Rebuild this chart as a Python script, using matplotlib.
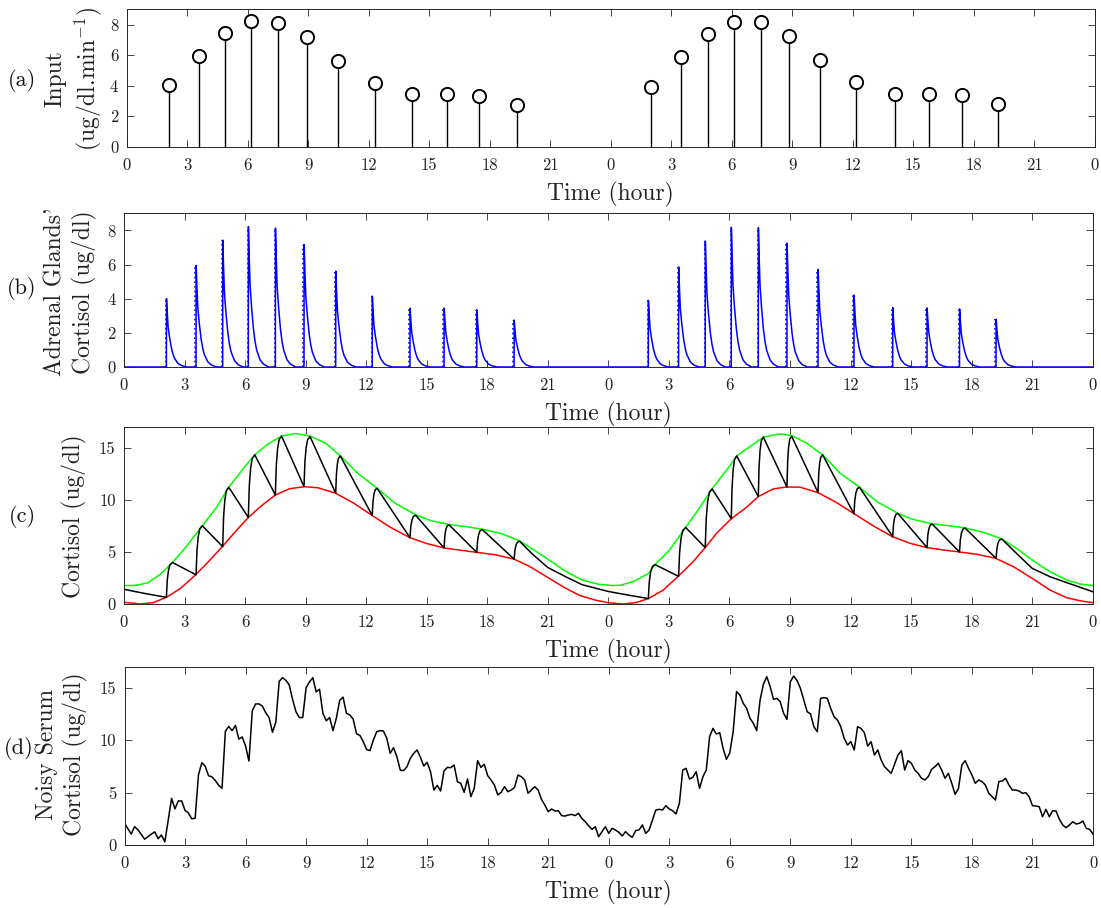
import numpy as np
import matplotlib
matplotlib.use("Agg")
import matplotlib.pyplot as plt

plt.rcParams['font.family'] = 'cmr10'
plt.rcParams['mathtext.fontset'] = 'cm'
plt.rcParams['axes.formatter.use_mathtext'] = True

# ---------------- data ----------------
# (a) secretory pulses: times (h, two days) and amplitudes
pulse_times = [2.10, 3.57, 4.89, 6.16, 7.50, 8.92, 10.49, 12.30, 14.17, 15.86, 17.48, 19.33,
               25.98, 27.48, 28.80, 30.09, 31.43, 32.85, 34.39, 36.17, 38.09, 39.79, 41.40, 43.21]
pulse_values = [4.01, 5.95, 7.43, 8.22, 8.13, 7.17, 5.62, 4.15, 3.45, 3.45, 3.35, 2.75,
                3.90, 5.86, 7.38, 8.18, 8.16, 7.25, 5.71, 4.21, 3.48, 3.46, 3.40, 2.80]

# (b) shape of a single adrenal spike (offset in h, fraction of amplitude)
decay_offsets = [0.0, 0.04, 0.083, 0.16, 0.25, 0.33, 0.41, 0.58, 0.75, 1.0]
decay_fracs = [1.0, 0.78, 0.58, 0.42, 0.27, 0.18, 0.12, 0.05, 0.02, 0.0]

# (c) upper (green) and lower (red) envelopes
green_t = [0, 0.6, 1.2, 1.8, 2.4, 3.0, 3.88, 4.6, 5.19, 6.0, 6.48, 7.1, 7.81, 8.5, 9.22,
           10.0, 10.72, 11.6, 12.54, 13.4, 14.45, 15.2, 16.1, 17.0, 17.75, 18.7, 19.6, 20.3,
           21.0, 21.9, 22.7, 23.5, 24.2, 24.6, 25.24, 25.98, 26.31, 27.0, 27.83, 28.54, 29.14,
           30.0, 30.36, 31.02, 31.68, 32.5, 33.08, 33.83, 34.62, 35.48, 36.44, 37.3, 38.34,
           39.0, 40.04, 40.93, 41.67, 42.58, 43.49, 44.23, 45.0, 45.88, 46.71, 47.4, 48.0]
green_v = [1.77, 1.78, 2.05, 2.85, 3.98, 5.3, 7.5, 9.3, 11.2, 13.2, 14.3, 15.3, 16.1, 16.35, 16.1,
           15.4, 14.2, 12.5, 11.1, 9.7, 8.55, 8.0, 7.62, 7.4, 7.17, 6.75, 6.05, 5.2,
           4.3, 3.1, 2.3, 1.9, 1.77, 1.8, 2.15, 2.92, 3.78, 5.1, 7.34, 9.28, 11.04,
           13.2, 14.2, 15.1, 16.0, 16.31, 16.15, 15.42, 14.3, 12.54, 11.2, 9.82, 8.7,
           8.16, 7.68, 7.49, 7.29, 6.88, 6.24, 5.34, 4.22, 3.1, 2.3, 1.9, 1.77]
red_t = [0, 0.8, 1.45, 2.10, 2.8, 3.55, 4.2, 4.87, 5.5, 6.16, 6.8, 7.5, 8.2, 8.92, 9.6, 10.49,
         11.4, 12.30, 13.2, 14.17, 15.0, 15.86, 16.7, 17.48, 18.4, 19.33, 20.1, 20.95, 21.8,
         22.6, 23.4, 24.09, 24.75, 25.4, 25.98, 26.72, 27.46, 28.2, 28.8, 29.36, 30.1, 30.85,
         31.43, 32.18, 32.85, 33.5, 34.39, 35.31, 36.19, 37.13, 38.07, 38.95, 39.78, 40.6,
         41.39, 42.25, 43.19, 44.07, 45.0, 45.88, 46.71, 47.4, 48.0]
red_v = [0.16, 0.0, 0.13, 0.64, 1.5, 2.8, 4.1, 5.5, 6.9, 8.3, 9.4, 10.45, 11.05, 11.25, 11.15, 10.62,
         9.65, 8.48, 7.35, 6.36, 5.8, 5.37, 5.15, 4.95, 4.72, 4.3, 3.6, 2.6, 1.6,
         0.8, 0.35, 0.1, 0.0, 0.15, 0.52, 1.34, 2.65, 4.06, 5.41, 6.78, 8.19, 9.28,
         10.3, 11.04, 11.22, 11.2, 10.68, 9.72, 8.64, 7.49, 6.46, 5.82, 5.41, 5.18,
         4.99, 4.77, 4.38, 3.58, 2.46, 1.34, 0.6, 0.3, 0.13]

# (c) black serum cortisol: troughs at pulse times, peaks shortly after
trough_values = [0.64, 2.8, 5.5, 8.3, 10.45, 11.25, 10.62, 8.48, 6.36, 5.37, 4.95, 4.3,
                 0.52, 2.65, 5.41, 8.19, 10.3, 11.22, 10.68, 8.64, 6.46, 5.41, 4.99, 4.38]
peak_times = [2.40, 3.88, 5.19, 6.48, 7.81, 9.22, 10.72, 12.54, 14.45, 16.10, 17.75, 19.60,
              26.31, 27.83, 29.14, 30.36, 31.68, 33.08, 34.62, 36.44, 38.34, 40.04, 41.67, 43.49]
peak_values = [3.98, 7.5, 11.2, 14.3, 16.1, 16.05, 14.2, 11.1, 8.52, 7.6, 7.15, 6.02,
               3.78, 7.34, 11.04, 14.2, 16.0, 16.1, 14.3, 11.2, 8.7, 7.68, 7.29, 6.24]
rise_pos = [0.0, 0.15, 0.35, 0.6, 1.0]      # fraction of rise duration
rise_frac = [0.0, 0.5, 0.78, 0.94, 1.0]     # fraction of rise height
lead_t, lead_v = [0.0, 1.0], [1.41, 1.02]
tail1_t, tail1_v = [20.2, 21.0, 21.9, 22.7, 24.0, 25.0], [4.85, 3.5, 2.6, 1.85, 1.2, 0.85]
tail2_t, tail2_v = [44.2, 45.0, 45.88, 46.71, 48.0], [4.9, 3.42, 2.62, 2.05, 1.18]

# (d) noisy serum cortisol sampled every 10 minutes over 48 h
noisy = [2.07, 1.55, 1.05, 1.75, 1.45, 1.0, 0.55, 0.8, 1.05, 1.25,
         0.6, 0.95, 0.3, 2.4, 4.45, 3.45, 4.2, 4.2, 3.3, 3.05,
         2.5, 2.55, 6.7, 7.85, 7.5, 6.6, 6.5, 6.15, 5.7, 5.4,
         10.85, 11.3, 10.9, 11.4, 10.1, 10.3, 9.45, 8.0, 12.8, 13.45,
         13.45, 13.25, 12.6, 12.15, 10.75, 11.7, 15.6, 15.95, 15.7, 15.25,
         13.85, 12.7, 12.15, 12.15, 15.0, 15.55, 15.95, 14.6, 14.85, 12.55,
         11.85, 12.15, 10.9, 12.1, 13.8, 14.1, 12.55, 12.4, 12.0, 10.6,
         10.45, 9.85, 9.1, 9.0,
         10.0, 10.8, 10.9, 10.87, 10.17, 8.74, 9.28, 8.42, 7.15, 7.09,
         7.47, 8.26, 8.74, 9.06, 8.36, 7.53, 7.88, 6.99, 5.24, 5.69,
         5.15, 7.05, 7.4, 7.37, 7.63, 6.04, 5.88, 5.02, 6.29, 4.61,
         5.4, 8.04, 7.4, 7.69, 6.61, 6.2, 5.72, 4.77, 5.02, 5.56,
         5.08, 5.24, 5.5, 6.67, 6.51, 6.2, 4.93, 5.24, 5.56, 5.24,
         4.35, 3.81, 3.18, 3.43, 3.24, 3.27, 2.8, 2.76, 2.86, 2.92,
         2.8, 3.02, 2.54, 2.22, 1.84, 1.49, 1.75, 0.79, 1.27, 1.75,
         1.11, 1.59, 1.43, 1.21, 0.86, 1.27, 0.95, 0.73, 1.37, 1.43,
         1.91, 1.11, 1.43, 2.38, 3.34, 3.4, 3.34, 3.75, 3.43, 3.27,
         2.96, 3.97, 7.15, 7.31, 6.29, 6.45, 6.99, 5.4, 6.51, 7.15,
         10.33, 11.12, 10.58, 10.71, 9.22, 8.17, 8.8, 10.8, 14.62, 14.3,
         13.5, 13.03, 12.07, 11.6, 10.9, 13.82, 15.35, 16.05, 15.09, 13.89,
         13.98, 13.66, 12.55, 11.98, 15.57, 16.11, 15.67, 14.93, 13.82, 12.71,
         12.49, 11.28, 10.8, 13.98, 14.05, 13.98, 13.03, 12.23, 11.92, 11.28,
         10.17, 9.53, 9.85,
         9.06, 11.28, 11.12, 10.71, 9.44, 9.85, 8.58, 9.06, 8.1, 7.47,
         7.15, 6.83, 7.72, 8.58, 8.99, 7.15, 8.04, 7.79, 7.15, 6.83,
         6.36, 6.2, 6.51, 7.21, 7.47, 7.79, 7.15, 6.36, 6.83, 5.88,
         4.83, 5.4, 7.63, 8.04, 7.31, 6.67, 5.88, 6.2, 6.04, 5.72,
         4.93, 4.61, 4.29, 6.04, 6.1, 6.36, 5.72, 5.24, 5.24, 5.15,
         4.93, 4.99, 4.61, 3.75, 3.72, 3.65, 2.7, 3.4, 2.7, 3.27,
         3.24, 2.45, 1.91, 1.65, 1.91, 2.22, 2.0, 2.07, 2.29, 1.59,
         1.49, 1.05]

xtick_hours = list(range(0, 49, 3))
xtick_labels = [str(h % 24) for h in xtick_hours]

# ---------------- figure ----------------
W, H = 1101, 908
fig = plt.figure(figsize=(W / 100, H / 100), dpi=100)


def px_axes(left, top, right, bottom):
    return fig.add_axes([left / W, 1 - bottom / H, (right - left) / W, (bottom - top) / H])


axc = '#262626'
txtc = '#222222'


def style(ax, ylim, yticks):
    ax.set_xlim(0, 48)
    ax.set_ylim(*ylim)
    ax.set_xticks(xtick_hours)
    ax.set_xticklabels(xtick_labels)
    ax.set_yticks(yticks)
    ax.set_yticklabels([str(v) for v in yticks])
    ax.tick_params(direction='in', top=True, right=True, length=5, width=0.6,
                   color=axc, labelsize=12, labelcolor=txtc)
    ax.tick_params(axis='x', pad=8)
    ax.tick_params(axis='y', pad=6)
    for s in ax.spines.values():
        s.set_linewidth(0.7)
        s.set_color(axc)
    ax.set_xlabel('Time (hour)', fontsize=17, labelpad=6, color=txtc)


ax_a = px_axes(126.7, 9.3, 1094.7, 146.7)
ax_b = px_axes(124, 213.3, 1092.7, 367)
ax_c = px_axes(124, 426.7, 1092.7, 604)
ax_d = px_axes(124.5, 666.7, 1093, 845)

# (a) stems
ax_a.vlines(pulse_times, 0, pulse_values, colors='k', lw=1.0, zorder=2)
ax_a.plot(pulse_times, pulse_values, 'o', mfc='white', mec='k', ms=9.5, mew=1.4, zorder=3)
style(ax_a, (0, 9), [0, 2, 4, 6, 8])

# (b) adrenal spikes
tb, vb = [0.0], [0.0]
for t, v in zip(pulse_times, pulse_values):
    tb.append(t)
    vb.append(0.0)
    for o, f in zip(decay_offsets, decay_fracs):
        tb.append(t + o + 0.005)
        vb.append(v * f)
tb.append(48.0)
vb.append(0.0)
ax_b.vlines(np.array(pulse_times) - 0.03, 0, pulse_values, colors='b', lw=1.2,
            linestyles=(0, (1, 1.8)))
ax_b.plot(tb, vb, color='b', lw=1.1)
style(ax_b, (0, 9), [0, 2, 4, 6, 8])

# (c) cortisol with envelopes
bt, bv = list(lead_t), list(lead_v)
for i, (t0, v0, t1, v1) in enumerate(zip(pulse_times, trough_values, peak_times, peak_values)):
    for p, f in zip(rise_pos, rise_frac):
        bt.append(t0 + p * (t1 - t0))
        bv.append(v0 + f * (v1 - v0))
    if i == 11:
        bt += tail1_t
        bv += tail1_v
bt += tail2_t
bv += tail2_v
ax_c.plot(green_t, green_v, color=(0, 1, 0), lw=1.1)
ax_c.plot(red_t, red_v, color=(1, 0, 0), lw=1.1)
ax_c.plot(bt, bv, color='k', lw=1.1)
style(ax_c, (0, 17), [0, 5, 10, 15])

# (d) noisy serum
td = np.linspace(0, 48, len(noisy))
ax_d.plot(td, noisy, color='k', lw=1.1)
style(ax_d, (0, 17), [0, 5, 10, 15])


# y labels and panel tags
def ftext(x, y, s, **kw):
    fig.text(x / W, 1 - y / H, s, ha='center', va='center', **kw)


ftext(74, 79, 'Input\n(ug/dl.min$^{-1}$)', rotation=90, fontsize=17, linespacing=1.3,
      multialignment='center', color=txtc)
ftext(71, 292, "Adrenal Glands'\nCortisol (ug/dl)", rotation=90, fontsize=17, linespacing=1.3,
      multialignment='center', color=txtc)
ftext(74, 516, 'Cortisol (ug/dl)', rotation=90, fontsize=17, color=txtc)
ftext(62, 754, 'Noisy Serum\nCortisol (ug/dl)', rotation=90, fontsize=17, linespacing=1.25,
      multialignment='center', color=txtc)

for lab, x, y in [('(a)', 22, 80), ('(b)', 22, 288), ('(c)', 22, 517), ('(d)', 19, 748)]:
    ftext(x, y, lab, fontsize=16, color='#111111')

fig.savefig('out.png', dpi=100)
